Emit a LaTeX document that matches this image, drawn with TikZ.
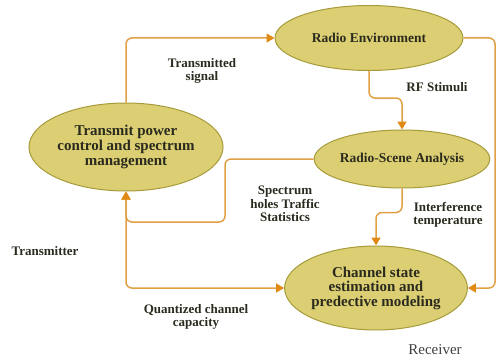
\documentclass[tikz,border=0pt]{standalone}
\usepackage{fontspec}
\setmainfont{Liberation Serif}
\usetikzlibrary{shapes.geometric,arrows.meta}
\definecolor{ellfill}{HTML}{DCCF73}
\definecolor{elldraw}{HTML}{A69B3A}
\definecolor{linecol}{HTML}{E0A046}
\definecolor{arrcol}{HTML}{E08A14}
\definecolor{txtcol}{HTML}{2A2A1E}
\tikzset{
  ell/.style={ellipse, fill=ellfill, draw=elldraw, line width=1pt, inner sep=0pt, align=center, text=txtcol, font=\bfseries},
  conn/.style={draw=linecol, line width=1.5pt, rounded corners=6pt},
  tip/.style={-{Triangle[length=8pt,width=9pt,color=arrcol]}},
  lbl/.style={align=center, text=txtcol, font=\fontsize{13}{13.5}\selectfont\bfseries, inner sep=0pt}
}
\begin{document}
\begin{tikzpicture}[x=1pt,y=-1pt]
\useasboundingbox (0,0) rectangle (497,361);
\node[ell, minimum width=188pt, minimum height=65pt, font=\fontsize{13.5}{14}\selectfont\bfseries] (re) at (369,38) {Radio Environment};
\node[ell, minimum width=155pt, minimum height=58pt, font=\fontsize{13.5}{14}\selectfont\bfseries] (rs) at (402,159) {Radio-Scene Analysis};
\node[ell, minimum width=162pt, minimum height=88pt, font=\fontsize{15}{15}\selectfont\bfseries] (tp) at (126,147) {Transmit power\\control and spectrum\\management};
\node[ell, minimum width=173pt, minimum height=84pt, font=\fontsize{15}{14.5}\selectfont\bfseries] (ch) at (376,288) {Channel state\\estimation and\\predective modeling};

\coordinate (rc) at (495,38);
\coordinate (sp) at (225,222);

\draw[conn,tip] (tp.north) |- (re.west);
\draw[conn,tip] (re.east) -- (rc) |- (ch.east);
\draw[conn,tip] (re.south) -- ++(0,27) -| (rs.north);
\draw[conn,tip] (rs.west) -| (sp) -| (tp.south);
\draw[conn,tip] (rs.south) -- ++(0,24) -| (ch.north);
\draw[conn,{Triangle[length=8pt,width=9pt,color=arrcol]}-{Triangle[length=8pt,width=9pt,color=arrcol]}] (tp.south) |- (ch.west);

\node[lbl] (l1) at (202,71) {Transmitted\\signal};
\node[lbl] (l2) at (437,87) {RF Stimuli};
\node[lbl] (l3) at (285,204) {Spectrum\\holes Traffic\\Statistics};
\node[lbl] (l4) at (448,215) {Interference\\temperature};
\node[lbl] (l5) at (45,251) {Transmitter};
\node[lbl] (l6) at (196,317) {Quantized channel\\capacity};
\node[lbl, font=\fontsize{15}{15}\selectfont, text=black!75] (l7) at (435,350) {Receiver};
\end{tikzpicture}
\end{document}
